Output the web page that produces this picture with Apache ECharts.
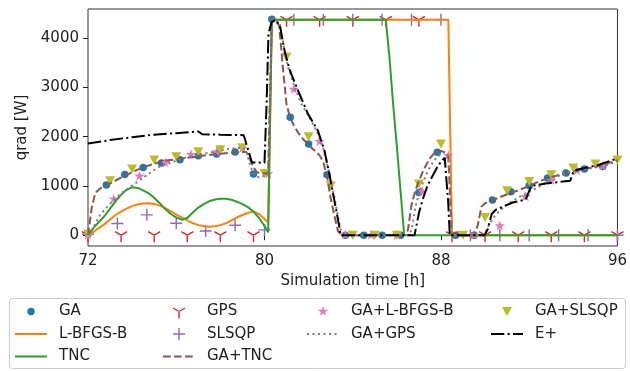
<!DOCTYPE html>
<html><head><meta charset="utf-8">
<script src="https://cdn.jsdelivr.net/npm/echarts@6/dist/echarts.min.js"></script>
<style>html,body{margin:0;padding:0;background:#fff}#c{width:630px;height:371px}</style>
</head><body><div id="c"></div>
<script>
// ---------------- data (time in h, qrad in W) ----------------
const xTicks = [72, 80, 88, 96];
const yTicks = [0, 1000, 2000, 3000, 4000];

const GA_t = [72, 72.833, 73.667, 74.5, 75.333, 76.167, 77, 77.833, 78.667, 79.5, 80.333, 81.167, 82, 82.833, 83.667, 84.5, 85.333, 86.167, 87, 87.833, 88.667, 89.5, 90.333, 91.167, 92, 92.833, 93.667, 94.5, 95.333];
const GA_q = [30, 1017, 1233, 1375, 1465, 1532, 1610, 1648, 1689, 1241, 4380, 2393, 1851, 1227, 0, 0, 0, 0, 867, 1681, 0, 0, 712, 880, 1010, 1160, 1260, 1343, 1396];

const LBFGSB_t = [72, 72.25, 72.5, 72.75, 73, 73.25, 73.5, 73.75, 74, 74.25, 74.5, 74.75, 75, 75.25, 75.5, 75.75, 76, 76.25, 76.5, 76.75, 77, 77.25, 77.5, 77.75, 78, 78.25, 78.5, 78.75, 79, 79.25, 79.5, 79.75, 80, 80.167, 80.333, 88.333, 88.5, 96];
const LBFGSB_q = [0, 70, 150, 225, 320, 410, 480, 540, 590, 625, 645, 650, 635, 600, 550, 490, 420, 360, 300, 245, 205, 180, 170, 180, 205, 240, 300, 360, 410, 455, 475, 430, 330, 260, 4370, 4370, 0, 0];

const TNC_t = [72, 72.25, 72.5, 72.75, 73, 73.25, 73.5, 73.75, 74, 74.25, 74.5, 74.75, 75, 75.25, 75.5, 75.75, 76, 76.25, 76.5, 76.75, 77, 77.25, 77.5, 77.75, 78, 78.25, 78.5, 78.75, 79, 79.25, 79.5, 79.75, 80, 80.167, 80.333, 85.5, 85.667, 85.833, 86, 86.167, 86.333, 96];
const TNC_q = [0, 150, 270, 390, 540, 690, 820, 920, 975, 960, 910, 850, 760, 650, 530, 430, 360, 315, 350, 460, 560, 630, 690, 725, 740, 740, 720, 680, 630, 570, 480, 350, 190, 60, 4370, 4370, 3600, 2650, 1800, 900, 0, 0];

const GPS_t = [72, 73.5, 75, 76.5, 78, 79.5, 81, 82.5, 84, 85.5, 87, 88.5, 90, 91.5, 93, 94.5, 96];
const GPS_q = [0, 0, 0, 0, 0, 0, 4370, 4370, 4370, 4370, 4370, 0, 0, 0, 0, 0, 0];

const SLSQP_t = [72, 73.333, 74.667, 76, 77.333, 78.667, 80, 81.333, 82.667, 84, 85.333, 86.667, 88, 89.333, 90.667, 92, 93.333, 94.667, 96];
const SLSQP_q = [20, 236, 413, 244, 87, 203, 108, 4370, 4370, 4370, 4370, 4370, 4370, 0, 0, 0, 0, 0, 0];

const GATNC_t = [72, 72.17, 72.33, 72.55, 72.85, 73.25, 73.67, 74.1, 74.57, 75, 75.47, 76.2, 77, 77.8, 78.7, 79.17, 79.33, 79.5, 79.67, 80, 80.167, 80.333, 80.5, 80.667, 80.833, 81, 81.167, 81.333, 81.5, 81.667, 81.833, 82, 82.167, 82.333, 82.5, 82.667, 82.833, 83, 83.167, 83.333, 83.5, 86.333, 86.5, 86.667, 86.833, 87, 87.167, 87.333, 87.5, 87.667, 87.833, 88, 88.167, 88.333, 88.5, 89.5, 89.667, 89.833, 90, 90.333, 90.667, 91, 91.5, 92, 92.5, 93, 93.5, 94, 94.5, 95, 95.5, 96];
const GATNC_q = [0, 560, 860, 950, 1010, 1110, 1206, 1300, 1390, 1450, 1512, 1550, 1600, 1648, 1681, 1690, 1550, 1380, 1270, 1254, 1254, 4370, 4370, 4250, 3400, 2650, 2380, 2230, 2100, 1990, 1910, 1840, 1760, 1690, 1620, 1480, 1200, 750, 400, 80, 0, 0, 100, 620, 900, 1100, 1280, 1430, 1560, 1650, 1715, 1710, 1680, 1590, 0, 0, 200, 580, 650, 710, 770, 830, 910, 1000, 1100, 1180, 1240, 1290, 1340, 1390, 1450, 1520];

const GALB_t = [72, 73.167, 74.333, 75.5, 76.667, 77.833, 79, 80.167, 81.333, 82.5, 83.667, 84.833, 86, 87.167, 88.333, 89.5, 90.667, 91.833, 93, 94.167, 95.333];
const GALB_q = [0, 732, 1196, 1470, 1634, 1688, 1760, 1241, 2956, 1898, 0, 0, 0, 881, 1613, 0, 186, 779, 1105, 1308, 1403];

const GAGPS_t = [72, 72.25, 72.5, 72.75, 73, 73.37, 73.67, 74, 74.6, 75.17, 75.77, 76.4, 77.34, 78.38, 79, 79.17, 79.33, 79.5, 79.75, 80, 80.167, 80.333, 80.5, 80.7, 80.85, 81.07, 81.37, 81.67, 82.12, 82.42, 82.65, 82.87, 83.17, 83.4, 83.5, 86.5, 86.667, 86.833, 87, 87.167, 87.333, 87.5, 87.667, 87.833, 88, 88.167, 88.333, 88.5, 89.833, 90, 90.167, 90.5, 91, 91.5, 92, 92.5, 93, 93.5, 94, 94.5, 95, 95.5, 96];
const GAGPS_q = [0, 155, 380, 520, 640, 800, 900, 1010, 1200, 1375, 1477, 1570, 1661, 1750, 1782, 1720, 1450, 1250, 1172, 1200, 1240, 4370, 4370, 4293, 3886, 3410, 3003, 2665, 2325, 2055, 1782, 1375, 765, 224, 0, 0, 100, 550, 850, 1050, 1230, 1380, 1500, 1590, 1650, 1680, 1600, 0, 0, 50, 200, 430, 630, 760, 880, 1000, 1140, 1240, 1300, 1340, 1375, 1420, 1500];

const GASLSQP_t = [72, 73, 74, 75, 76, 77, 78, 79, 80, 81, 82, 83, 84, 85, 86, 87, 88, 89, 90, 91, 92, 93, 94, 95, 96];
const GASLSQP_q = [20, 1105, 1343, 1526, 1593, 1695, 1735, 1776, 1253, 3614, 2000, 1003, 0, 0, 0, 1037, 1851, 0, 358, 901, 1091, 1227, 1363, 1444, 1526];

const EP_t = [72, 73, 74, 75, 76, 77, 77.17, 78, 79.06, 79.2, 79.43, 80, 80.1, 80.18, 80.33, 80.5, 80.7, 80.85, 80.93, 81.15, 81.52, 81.97, 82.42, 82.72, 82.94, 83.17, 83.4, 83.45, 86.8, 87, 87.2, 87.36, 87.5, 87.88, 88.17, 88.33, 88.4, 89.97, 90.12, 90.3, 90.5, 91.25, 91.84, 92, 92.1, 92.74, 93.86, 94.01, 94.16, 95.1, 96];
const EP_q = [1860, 1930, 1990, 2040, 2070, 2105, 2050, 2040, 2030, 1820, 1477, 1470, 2732, 4090, 4330, 4370, 4250, 3886, 3700, 3343, 2936, 2462, 2122, 1715, 1241, 698, 155, 0, 0, 450, 765, 968, 1105, 1420, 1575, 650, 0, 0, 120, 430, 520, 663, 725, 900, 1000, 1050, 1105, 1300, 1330, 1420, 1560];

// ---------------- symbols ----------------
function poly(pts, tx, ty, s) {
  return 'M' + pts.map(p => (tx + p[0] * s).toFixed(2) + ',' + (ty + p[1] * s).toFixed(2)).join('L') + 'Z';
}
function yShape(h) {
  const arm = (dx, dy) => { const nx = -dy * h, ny = dx * h; return [[nx, ny], [dx + nx, dy + ny], [dx - nx, dy - ny], [-nx, -ny]]; };
  return [[[-h, 0], [h, 0], [h, 1], [-h, 1]], arm(-0.866, -0.5), arm(0.866, -0.5)];
}
function plusShape(h) { return [[[-h, -1], [h, -1], [h, 1], [-h, 1]], [[-1, -h], [1, -h], [1, h], [-1, h]]]; }
function starShape() {
  const pts = [];
  for (let k = 0; k < 10; k++) { const a = (-90 + k * 36) * Math.PI / 180; const r = k % 2 ? 0.382 : 1; pts.push([r * Math.cos(a), r * Math.sin(a)]); }
  return [pts];
}
const triShape = [[[-1, -0.9], [1, -0.9], [0, 0.9]]];
const dot = (x, y) => [[x, y], [x + 0.004, y], [x, y + 0.004]];
function plotPath(shapes) { return 'path://' + shapes.map(p => poly(p, 50, 50, 50)).join(' '); }
const LW = 390, LH = 140;
const corners = ' M0,0L1,0L0,1Z M' + LW + ',' + LH + 'L' + (LW - 1) + ',' + LH + 'L' + LW + ',' + (LH - 1) + 'Z';
function legPath(shapes, rpx) { return 'path://' + shapes.map(p => poly(p, 160, 70, rpx * 10)).join(' ') + corners; }
function legLine(segs) { return 'path://' + segs.map(s => 'M' + s[0] + ',60H' + s[1] + 'V80H' + s[0] + 'Z').join(' ') + corners; }
function legCircle(r) { const R = r * 10; return 'path://M' + (160 - R) + ',70A' + R + ',' + R + ' 0 1 1 ' + (160 + R) + ',70A' + R + ',' + R + ' 0 1 1 ' + (160 - R) + ',70Z' + corners; }

const Y_SYM = plotPath(yShape(0.1).concat([dot(0, -1)]));
const PLUS_SYM = plotPath(plusShape(0.12));
const STAR_SYM = plotPath(starShape().concat([dot(0, 1)]));
const TRI_SYM = plotPath(triShape);

const font = 'DejaVu Sans';
const zip = (t, q) => t.map((v, i) => [v, q[i]]);

function lineS(name, t, q, color, type) {
  return { name, type: 'line', data: zip(t, q), symbol: 'none', showSymbol: false, clip: true,
    lineStyle: { color, width: 2, type: type || 'solid' }, itemStyle: { color }, animation: false };
}
function scatS(name, t, q, color, symbol, size) {
  return { name, type: 'scatter', data: zip(t, q), symbol, symbolSize: size, clip: true,
    itemStyle: { color, opacity: 1 }, animation: false };
}

const series = [
  scatS('GA', GA_t, GA_q, '#1f77b4', 'circle', 7.5),
  lineS('L-BFGS-B', LBFGSB_t, LBFGSB_q, '#ff7f0e'),
  lineS('TNC', TNC_t, TNC_q, '#2ca02c'),
  scatS('GPS', GPS_t, GPS_q, '#d62728', Y_SYM, [12.8, 14]),
  scatS('SLSQP', SLSQP_t, SLSQP_q, '#9467bd', PLUS_SYM, 12),
  lineS('GA+TNC', GATNC_t, GATNC_q, '#8c564b', [7.7, 3.3]),
  scatS('GA+L-BFGS-B', GALB_t, GALB_q, '#e377c2', STAR_SYM, [10.5, 11]),
  lineS('GA+GPS', GAGPS_t, GAGPS_q, '#7f7f7f', [2.1, 3.4]),
  scatS('GA+SLSQP', GASLSQP_t, GASLSQP_q, '#bcbd22', TRI_SYM, [10, 9]),
  lineS('E+', EP_t, EP_q, '#000000', [13.3, 3.3, 2.1, 3.3])
];

const icons = {
  'GA': legCircle(3.7),
  'L-BFGS-B': legLine([[0, 320]]),
  'TNC': legLine([[0, 320]]),
  'GPS': legPath(yShape(0.1), 7),
  'SLSQP': legPath(plusShape(0.12), 6),
  'GA+TNC': legLine([[0, 77], [110, 187], [220, 297]]),
  'GA+L-BFGS-B': legPath(starShape(), 5.5),
  'GA+GPS': legLine([[0, 21], [55, 76], [110, 131], [165, 186], [220, 241], [275, 296]]),
  'GA+SLSQP': legPath(triShape, 5),
  'E+': legLine([[0, 133], [166, 187], [220, 320]])
};
const cols = [['GA', 'L-BFGS-B', 'TNC'], ['GPS', 'SLSQP', 'GA+TNC'], ['GA+L-BFGS-B', 'GA+GPS'], ['GA+SLSQP', 'E+']];
const colLeft = [15, 163, 307, 491];
const legends = cols.map((c, i) => ({
  data: c.map(n => ({ name: n, icon: icons[n] })),
  orient: 'vertical', left: colLeft[i], top: 304, padding: 0,
  itemWidth: 39, itemHeight: 14, itemGap: 7.5, selectedMode: false,
  itemStyle: { borderWidth: 0 },
  textStyle: { fontSize: 15, fontFamily: font, color: '#222' }
}));

const chart = echarts.init(document.getElementById('c'), null, { renderer: 'canvas' });
chart.setOption({
  animation: false,
  backgroundColor: '#fff',
  grid: { left: 88, right: 7, top: 9, bottom: 125, show: true, borderColor: '#333', borderWidth: 1, containLabel: false },
  graphic: [{ type: 'rect', shape: { x: 9.5, y: 298.5, width: 616, height: 70, r: 3 }, style: { fill: 'rgba(255,255,255,0.8)', stroke: '#cccccc', lineWidth: 1 }, z: -1 }],
  legend: legends,
  xAxis: {
    type: 'value', min: 72, max: 96, interval: 8,
    name: 'Simulation time [h]', nameLocation: 'middle', nameGap: 27,
    nameTextStyle: { fontSize: 15, fontFamily: font, color: '#222' },
    axisLine: { show: false }, splitLine: { show: false },
    axisTick: { show: true, length: 5, lineStyle: { color: '#222' }, customValues: xTicks },
    axisLabel: { fontSize: 15, fontFamily: font, color: '#222', margin: 8, customValues: xTicks, formatter: v => String(v) }
  },
  yAxis: {
    type: 'value', min: -219, max: 4590,
    name: 'qrad [W]', nameLocation: 'middle', nameGap: 58, nameRotate: 90,
    nameTextStyle: { fontSize: 15, fontFamily: font, color: '#222' },
    axisLine: { show: false }, splitLine: { show: false },
    axisTick: { show: true, length: 5, lineStyle: { color: '#222' }, customValues: yTicks },
    axisLabel: { fontSize: 15, fontFamily: font, color: '#222', margin: 9, customValues: yTicks, formatter: v => String(v) }
  },
  series
});
</script></body></html>
